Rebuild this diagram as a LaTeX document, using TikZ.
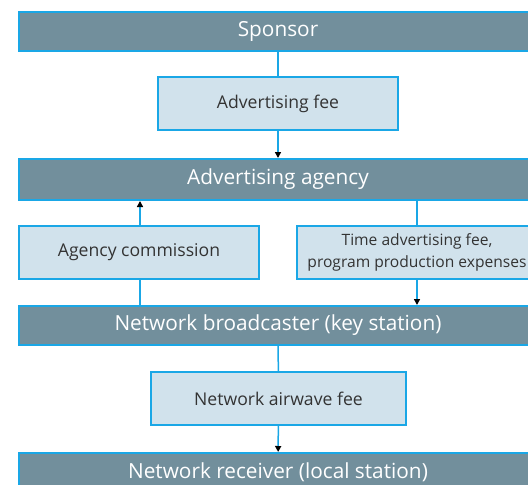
\documentclass[tikz,border=0pt]{standalone}
\usepackage{fontspec}
\setmainfont{Open Sans}
\usetikzlibrary{arrows.meta}
\definecolor{barfill}{HTML}{728F9C}
\definecolor{edgeblue}{HTML}{1AA7E6}
\definecolor{boxfill}{HTML}{D1E2EC}
\definecolor{boxtext}{HTML}{333333}
\begin{document}
\begin{tikzpicture}[x=1pt,y=-1pt,
  bar/.style={draw=edgeblue,line width=2pt,fill=barfill,text=white,
    minimum width=518pt,minimum height=39pt,inner sep=0pt,font=\fontsize{20.8}{24}\selectfont},
  feebox/.style={draw=edgeblue,line width=1.2pt,fill=boxfill,text=boxtext,
    minimum width=240pt,minimum height=53pt,inner sep=0pt,align=center,
    font=\fontsize{17.6}{20}\selectfont},
  link/.style={draw=edgeblue,line width=1.5pt},
  flow/.style={link,-{Triangle[length=6pt,width=6pt,color=black]}}]
\useasboundingbox (0,0) rectangle (528,485);
\node[bar] (sponsor) at (278,31.5) {Sponsor};
\node[feebox] (adfee) at (278,103.5) {Advertising fee};
\node[bar,minimum height=41pt] (agency) at (278,179.5) {Advertising agency};
\node[feebox] (commission) at (139,252.5) {Agency commission};
\node[feebox,font=\fontsize{15.6}{21.5}\selectfont] (timefee) at (417,252.5) {Time advertising fee,\\program production expenses};
\node[bar] (broadcaster) at (278,325.5) {Network broadcaster (key station)};
\node[feebox,minimum width=255pt] (airwave) at (278.5,398.5) {Network airwave fee};
\node[bar] (receiver) at (278,472.5) {Network receiver (local station)};
\draw[link] (sponsor) -- (adfee);
\draw[flow] (adfee) -- (agency);
\draw[flow] (commission.north -| 140,0) -- (agency.south -| 140,0);
\draw[link] (broadcaster.north -| 140,0) -- (commission.south -| 140,0);
\draw[link] (agency.south -| 417,0) -- (timefee.north -| 417,0);
\draw[flow] (timefee.south -| 417,0) -- (broadcaster.north -| 417,0);
\draw[link] (broadcaster) -- (airwave);
\draw[flow] (airwave) -- (receiver);
\end{tikzpicture}
\end{document}
